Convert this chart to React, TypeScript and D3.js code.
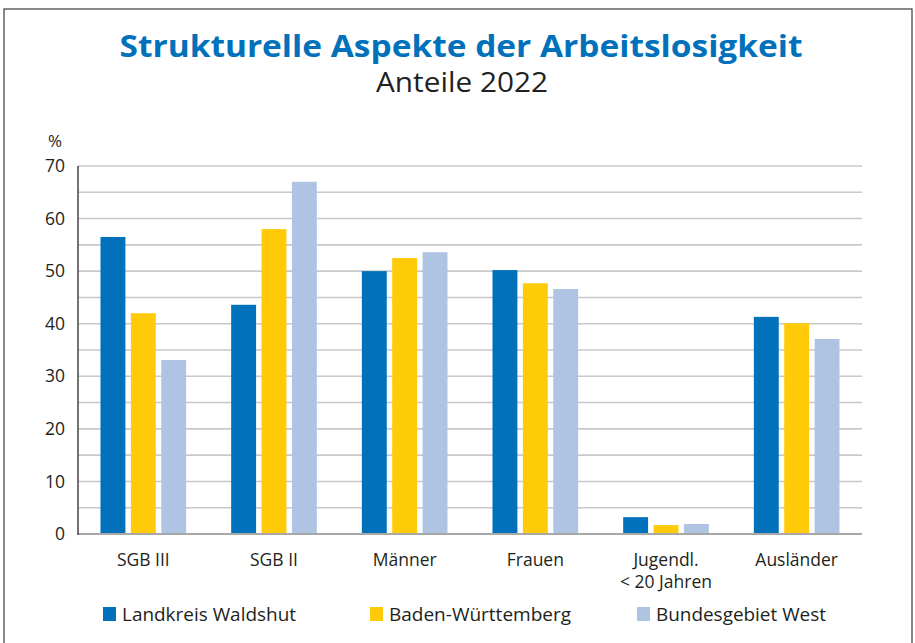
import React from "react";
import * as d3 from "d3";

const categories = ["SGB III", "SGB II", "Männer", "Frauen", "Jugendl.\n< 20 Jahren", "Ausländer"];
const seriesNames = ["Landkreis Waldshut", "Baden-Württemberg", "Bundesgebiet West"];
const waldshut = [56.5, 43.6, 50.0, 50.2, 3.2, 41.3];
const bw = [42.0, 58.0, 52.5, 47.7, 1.7, 40.1];
const west = [33.1, 67.0, 53.6, 46.6, 1.9, 37.1];
const yTicks = [0, 10, 20, 30, 40, 50, 60, 70];
const gridValues = [5, 10, 15, 20, 25, 30, 35, 40, 45, 50, 55, 60, 65, 70];
const colors = ["#0071BA", "#FFCB08", "#AFC4E3"];

const W = 915;
const H = 643;
const font = "'Open Sans', 'Noto Sans', sans-serif";

export default function App() {
  const values = [waldshut, bw, west];
  const x0 = d3.scaleBand<string>().domain(categories).range([78, 862]).padding(0);
  const x1 = d3
    .scaleBand<string>()
    .domain(seriesNames)
    .range([22.5, x0.bandwidth() - 22.5])
    .paddingInner(0.18);
  const y = d3.scaleLinear().domain([0, 70]).range([534, 166]);

  const legendX = [103, 370, 637];
  const legendLen = [174, 182, 170];

  return (
    <svg
      width={W}
      height={H}
      style={{ position: "absolute", left: 0, top: 0, background: "#fff" }}
      fontFamily={font}
    >
      <rect x={0} y={0} width={W} height={H} fill="#fff" />
      <rect x={4} y={9} width={908} height={H} fill="none" stroke="#3a3a3a" strokeWidth={1.2} />

      <text
        x={461}
        y={57}
        textAnchor="middle"
        fontSize={31}
        fontWeight={700}
        fill="#0071BA"
        textLength={683}
        lengthAdjust="spacingAndGlyphs"
      >
        Strukturelle Aspekte der Arbeitslosigkeit
      </text>
      <text
        x={462}
        y={92}
        textAnchor="middle"
        fontSize={27}
        fill="#231f20"
        textLength={172}
        lengthAdjust="spacingAndGlyphs"
      >
        Anteile 2022
      </text>

      {gridValues.map((v) => (
        <line key={v} x1={78} x2={862} y1={y(v)} y2={y(v)} stroke="#c8c8c8" strokeWidth={1.6} />
      ))}

      {values.map((arr, si) =>
        arr.map((v, ci) => (
          <rect
            key={`${si}-${ci}`}
            x={(x0(categories[ci]) as number) + (x1(seriesNames[si]) as number)}
            y={y(v)}
            width={x1.bandwidth()}
            height={y(0) - y(v)}
            fill={colors[si]}
          />
        ))
      )}

      <line x1={78} x2={862} y1={y(0)} y2={y(0)} stroke="#a8a8a8" strokeWidth={2} />
      <line x1={78} x2={78} y1={y(70)} y2={y(0) + 1} stroke="#444" strokeWidth={1.5} />

      {yTicks.map((t) => (
        <text
          key={t}
          x={65}
          y={y(t)}
          dy="0.35em"
          textAnchor="end"
          fontSize={17.5}
          fill="#231f20"
        >
          {t}
        </text>
      ))}
      <text x={55} y={147} textAnchor="middle" fontSize={17} fill="#231f20">
        %
      </text>

      {categories.map((c) => {
        const lines = c.split("\n");
        const cx = (x0(c) as number) + x0.bandwidth() / 2;
        return (
          <text key={c} x={cx} textAnchor="middle" fontSize={17.5} fill="#231f20">
            {lines.map((l, i) => (
              <tspan key={i} x={cx} y={566 + i * 22}>
                {l}
              </tspan>
            ))}
          </text>
        );
      })}

      {seriesNames.map((s, i) => (
        <g key={s}>
          <rect x={legendX[i]} y={607} width={13} height={14} fill={colors[i]} />
          <text
            x={legendX[i] + 19}
            y={621}
            fontSize={18}
            fill="#231f20"
            textLength={legendLen[i]}
            lengthAdjust="spacingAndGlyphs"
          >
            {s}
          </text>
        </g>
      ))}
    </svg>
  );
}
